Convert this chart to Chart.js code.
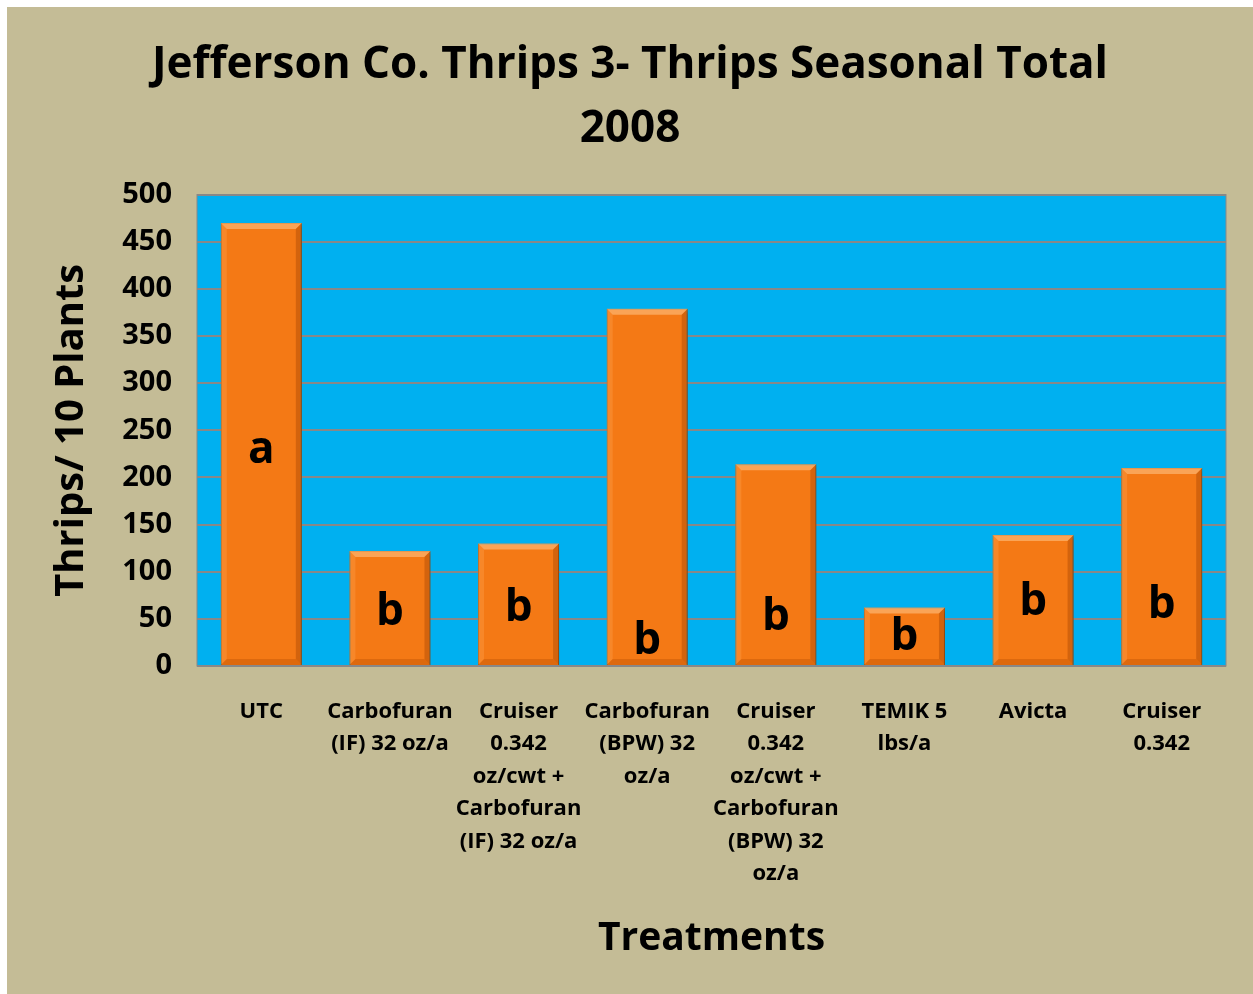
<!DOCTYPE html>
<html>
<head>
<meta charset="utf-8">
<script src="https://cdn.jsdelivr.net/npm/chart.js@4/dist/chart.umd.min.js"></script>
<style>
  html, body { margin: 0; padding: 0; background: #fff; }
  #wrap { position: absolute; left: 7px; top: 7px; width: 1246px; height: 987px; background: #C4BC96; }
</style>
</head>
<body>
<div id="wrap"><canvas id="chart" width="1246" height="987"></canvas></div>
<script>
const treatments = [
  ["UTC"],
  ["Carbofuran", "(IF) 32 oz/a"],
  ["Cruiser", "0.342", "oz/cwt +", "Carbofuran", "(IF) 32 oz/a"],
  ["Carbofuran", "(BPW) 32", "oz/a"],
  ["Cruiser", "0.342", "oz/cwt +", "Carbofuran", "(BPW) 32", "oz/a"],
  ["TEMIK 5", "lbs/a"],
  ["Avicta"],
  ["Cruiser", "0.342"]
];
const thrips = [470, 122, 130, 379, 214, 62, 139, 210];
const letters = ["a", "b", "b", "b", "b", "b", "b", "b"];
const letterAt = [229, 57, 61, 26, 52, 30, 67, 64];

const fontFamily = "'Open Sans', 'DejaVu Sans', sans-serif";

const plotBg = {
  id: "plotBg",
  beforeDraw(chart) {
    const { ctx, chartArea: a } = chart;
    ctx.save();
    ctx.fillStyle = "#00B0F0";
    ctx.fillRect(a.left, a.top, a.right - a.left, a.bottom - a.top);
    ctx.strokeStyle = "#888";
    ctx.lineWidth = 1;
    ctx.strokeRect(a.left, a.top, a.right - a.left, a.bottom - a.top);
    ctx.restore();
  },
  beforeDatasetsDraw(chart) {
    chart.ctx.save();
    chart.ctx.shadowColor = "rgba(0,0,0,0.35)";
    chart.ctx.shadowBlur = 4;
    chart.ctx.shadowOffsetX = 1;
    chart.ctx.shadowOffsetY = 2;
  },
  afterDatasetsDraw(chart) {
    const ctx = chart.ctx;
    ctx.restore();
    ctx.save();
    const meta = chart.getDatasetMeta(0);
    meta.data.forEach((bar) => {
      const l = bar.x - bar.width / 2, r = bar.x + bar.width / 2;
      const t = bar.y, b = bar.base;
      const e = 6;
      ctx.fillStyle = "rgba(255,200,140,0.55)";
      ctx.beginPath();
      ctx.moveTo(l, t); ctx.lineTo(r, t); ctx.lineTo(r - e, t + e); ctx.lineTo(l + e, t + e); ctx.closePath();
      ctx.fill();
      ctx.fillStyle = "rgba(255,170,90,0.3)";
      ctx.beginPath();
      ctx.moveTo(l, t); ctx.lineTo(l + e, t + e); ctx.lineTo(l + e, b - e); ctx.lineTo(l, b); ctx.closePath();
      ctx.fill();
      ctx.fillStyle = "rgba(150,60,0,0.35)";
      ctx.beginPath();
      ctx.moveTo(r, t); ctx.lineTo(r - e, t + e); ctx.lineTo(r - e, b - e); ctx.lineTo(r, b); ctx.closePath();
      ctx.fill();
      ctx.fillStyle = "rgba(170,70,0,0.3)";
      ctx.beginPath();
      ctx.moveTo(l, b); ctx.lineTo(l + e, b - e); ctx.lineTo(r - e, b - e); ctx.lineTo(r, b); ctx.closePath();
      ctx.fill();
    });
    // significance letters
    const y = chart.scales.y;
    ctx.fillStyle = "#000";
    ctx.font = "bold 44px " + fontFamily;
    ctx.textAlign = "center";
    ctx.textBaseline = "middle";
    meta.data.forEach((bar, i) => {
      ctx.fillText(letters[i], bar.x, y.getPixelForValue(letterAt[i]));
    });
    ctx.restore();
  }
};

new Chart(document.getElementById("chart"), {
  type: "bar",
  data: {
    labels: treatments,
    datasets: [{
      data: thrips,
      backgroundColor: "#F47915",
      borderColor: "#C8600C",
      borderWidth: 1,
      categoryPercentage: 1,
      barPercentage: 0.63
    }]
  },
  options: {
    responsive: false,
    animation: false,
    layout: { padding: 0 },
    plugins: {
      legend: { display: false },
      tooltip: { enabled: false },
      title: {
        display: true,
        text: ["Jefferson Co. Thrips 3- Thrips Seasonal Total", "2008"],
        color: "#000",
        font: { family: fontFamily, size: 44, weight: "bold", lineHeight: 1.45 },
        padding: { top: 27, bottom: 33 }
      }
    },
    scales: {
      x: {
        grid: { display: false },
        border: { display: false },
        ticks: {
          color: "#000",
          font: { family: fontFamily, size: 22, weight: "bold", lineHeight: 1.48 },
          padding: 21,
          maxRotation: 0,
          autoSkip: false
        },
        title: {
          display: true,
          text: "Treatments",
          color: "#000",
          font: { family: fontFamily, size: 39, weight: "bold", lineHeight: 1.2 },
          padding: { top: 0, bottom: 32 }
        },
        afterFit(scale) { scale.height = 328; }
      },
      y: {
        min: 0,
        max: 500,
        ticks: {
          stepSize: 50,
          color: "#000",
          font: { family: fontFamily, size: 29, weight: "bold" },
          padding: 25
        },
        grid: { color: "#888", lineWidth: 2, drawTicks: false },
        border: { display: false },
        title: {
          display: true,
          text: "Thrips/ 10 Plants",
          color: "#000",
          font: { family: fontFamily, size: 40, weight: "bold", lineHeight: 1.2 },
          padding: { top: 41, bottom: 0 }
        },
        afterFit(scale) { scale.width = 190; }
      },
      yRight: {
        position: "right",
        min: 0,
        max: 500,
        grid: { display: false, drawTicks: false },
        border: { display: false },
        ticks: { display: false },
        afterFit(scale) { scale.width = 27; }
      }
    }
  },
  plugins: [plotBg]
});
</script>
</body>
</html>
